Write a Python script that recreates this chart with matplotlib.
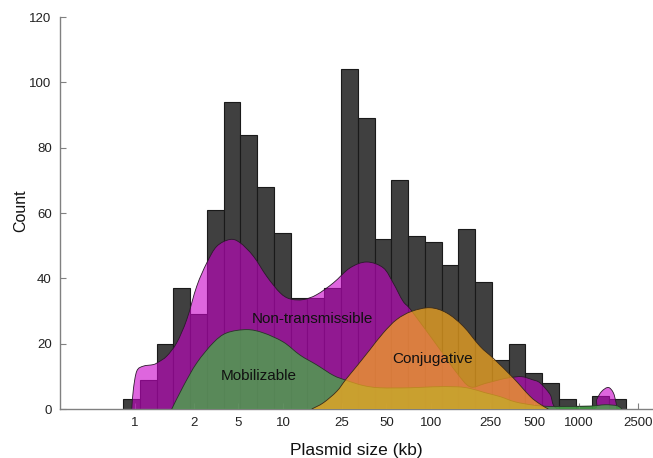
import numpy as np
import matplotlib
matplotlib.use("Agg")
import matplotlib.pyplot as plt
from matplotlib.path import Path
from matplotlib.patches import PathPatch
from matplotlib.colors import to_rgba

plt.rcParams['font.family'] = ['Liberation Sans', 'DejaVu Sans']

# histogram of all plasmids (30 log-spaced bins, 0.83 - 2078 kb)
bin_lo, bin_hi = 0.83, 2078
counts = [3, 9, 20, 37, 29, 61, 94, 84, 68, 54, 34, 34, 37, 104, 89,
          52, 70, 53, 51, 44, 55, 39, 15, 20, 11, 8, 3, 1, 4, 3]

# density curves (size in kb, count)
nt_kb = [0.95, 0.974, 1.027, 1.133, 1.329, 1.43, 1.638, 1.913, 2.236, 2.612,
         3.051, 3.565, 4.385, 5.123, 6.30, 7.761, 9.544, 11.15, 13.72, 16.89,
         21.87, 28.36, 36.77, 47.61, 55.64, 64.69, 74.07, 115.0, 149.1, 183.4,
         231.7, 292.6, 341.8, 410.1, 481.4, 545.1, 637.0, 721.4,
         1249, 1317, 1424, 1578, 1705, 1778, 1806]
nt_n = [0, 6, 11.6, 13.1, 13.6, 14.3, 16.2, 20.3, 27.4, 37.6,
        44.7, 49.8, 51.9, 50.9, 46.8, 40.6, 35.6, 33.7, 33.5, 35,
        38.6, 43.2, 45, 43.2, 38.5, 33, 30, 18.2, 11.1, 6.8,
        7.8, 9, 9.6, 9.9, 9, 8, 4.5, 0,
        0, 2.9, 5.4, 6.6, 5, 2, 0]

mob_kb = [1.77, 2.12, 2.612, 3.381, 4.165, 5.684, 7.361, 10.05, 13.03, 16.89,
          21.87, 26.66, 34.72, 45.22, 72.13, 103.2, 149.8, 183.4, 231.7, 292.6,
          369.5, 489.0, 617.3, 804.3, 1187, 1499, 1806, 1952]
mob_n = [0, 7, 14.1, 20.3, 23.3, 24.3, 23.3, 20.5, 16.5, 13.5,
         10.3, 8.8, 7.2, 6.5, 6.5, 6.8, 6.8, 6.3, 5, 3.8,
         2.2, 1.2, 0.8, 0.8, 0.9, 1.3, 1.0, 0]

conj_kb = [15.63, 18.72, 23.06, 26.52, 31.48, 38.71, 47.61, 58.65, 74.07, 98.45,
           127.7, 165.3, 214.3, 263.7, 359.8, 466.7, 545.1, 620.3]
conj_n = [0, 1.9, 5.4, 9, 13.1, 18.2, 23.3, 27.4, 29.9, 31,
          29.4, 25.3, 19.2, 15.5, 9.5, 3.9, 1.5, 0]

tick_pos = [1, 2.5, 5, 10, 25, 50, 100, 250, 500, 1000, 2500]
tick_lab = ['1', '2', '5', '10', '25', '50', '100', '250', '500', '1000', '2500']


def curve_path(kb, n, closed):
    # smooth bezier through the read points (in log-x space)
    p = np.column_stack([np.log10(kb), n])
    verts = [p[0]]
    codes = [Path.MOVETO]
    for i in range(len(p) - 1):
        p0 = p[i - 1] if i > 0 else p[i]
        p3 = p[i + 2] if i + 2 < len(p) else p[i + 1]
        c1 = p[i] + (p[i + 1] - p0) / 6
        c2 = p[i + 1] - (p3 - p[i]) / 6
        c1[1] = max(c1[1], 0)
        c2[1] = max(c2[1], 0)
        verts += [c1, c2, p[i + 1]]
        codes += [Path.CURVE4] * 3
    if closed:
        verts += [p[0], p[0]]
        codes += [Path.LINETO, Path.CLOSEPOLY]
    verts = np.array(verts)
    verts[:, 0] = 10 ** verts[:, 0]
    return Path(verts, codes)


fig = plt.figure(figsize=(6.53, 4.58), dpi=100)
ax = fig.add_axes((60 / 653, 49 / 458, 592 / 653, 392 / 458))

edges = np.logspace(np.log10(bin_lo), np.log10(bin_hi), len(counts) + 1)
ax.bar(edges[:-1], counts, width=np.diff(edges), align='edge',
       color='#404040', edgecolor='#1a1a1a', linewidth=0.8, zorder=1)

layers = [(nt_kb, nt_n, '#c800c8', 0.6, '#2a1a2a'),
          (mob_kb, mob_n, '#47af47', 0.75, '#2a332a'),
          (conj_kb, conj_n, '#faaa1e', 0.7, '#3a2a1a')]
for z, (kb, n, col, a, ec) in enumerate(layers):
    ax.add_patch(PathPatch(curve_path(kb, n, True), facecolor=to_rgba(col, a),
                           edgecolor='none', zorder=2 + z))
    ax.add_patch(PathPatch(curve_path(kb, n, False), facecolor='none',
                           edgecolor=ec, linewidth=0.6, zorder=2 + z))

ax.text(15.8, 27.7, 'Non-transmissible', ha='center', va='center', fontsize=11, color='#111111', zorder=6)
ax.text(6.85, 10, 'Mobilizable', ha='center', va='center', fontsize=11, color='#111111', zorder=6)
ax.text(102, 15.2, 'Conjugative', ha='center', va='center', fontsize=11, color='#111111', zorder=6)

ax.set_xscale('log')
ax.set_xlim(0.311, 3114)
ax.set_ylim(0, 120)
ax.set_xticks(tick_pos)
ax.set_xticklabels(tick_lab)
ax.minorticks_off()
ax.set_yticks(range(0, 121, 20))

for s in ['top', 'right']:
    ax.spines[s].set_visible(False)
for s in ['left', 'bottom']:
    ax.spines[s].set_color('#808080')
    ax.spines[s].set_linewidth(1.0)
ax.tick_params(direction='in', length=4, color='#808080', labelsize=9.5,
               labelcolor='#222222', pad=6)

ax.set_xlabel('Plasmid size (kb)', fontsize=12.5, labelpad=10, color='#111111')
ax.set_ylabel('Count', fontsize=11.5, color='#111111')
ax.yaxis.set_label_coords(-0.054, 0.505)

fig.savefig('out.png', dpi=100)
